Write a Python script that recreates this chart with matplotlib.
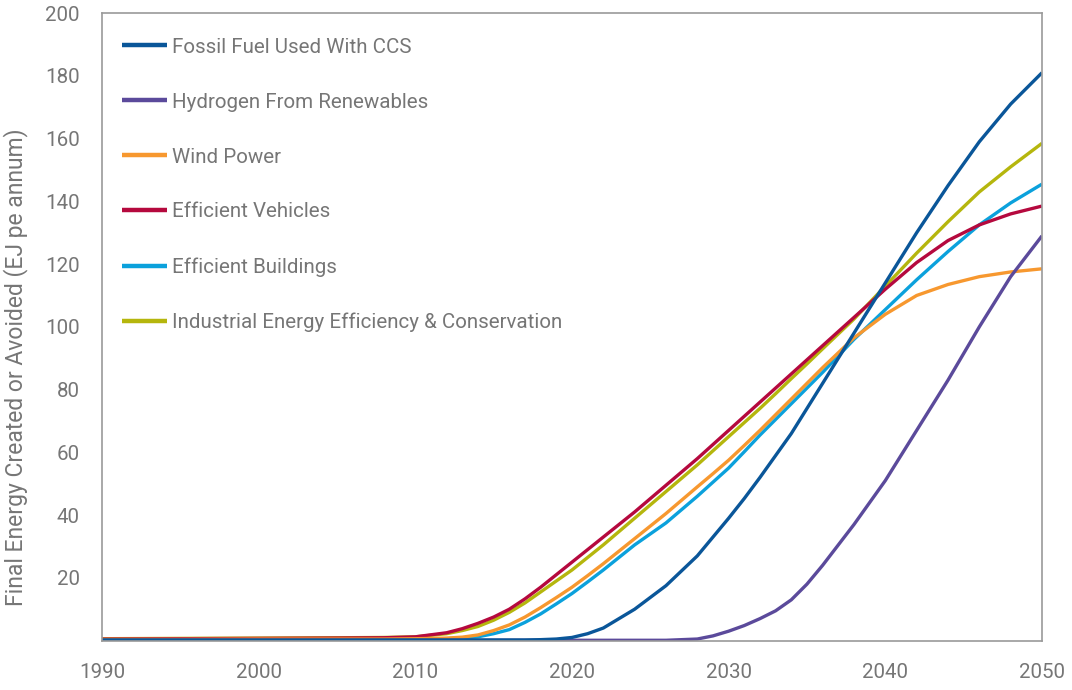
import matplotlib
matplotlib.use("Agg")
import matplotlib.pyplot as plt

plt.rcParams['font.family'] = ['Roboto', 'DejaVu Sans']

years = [1990, 1995, 2000, 2005, 2008, 2010, 2012, 2013, 2014, 2015, 2016,
         2017, 2018, 2019, 2020, 2021, 2022, 2024, 2026, 2028, 2029, 2030,
         2031, 2032, 2033, 2034, 2035, 2036, 2038, 2040, 2042, 2044, 2046,
         2048, 2050]

fossil_ccs = [0.2, 0.2, 0.2, 0.2, 0.2, 0.2, 0.2, 0.2, 0.2, 0.2, 0.2,
              0.2, 0.3, 0.5, 1, 2.2, 4, 10, 17.5, 27, 33, 39,
              45.3, 52, 59, 66, 74, 82, 98, 114, 130, 145, 159,
              171, 181]
hydrogen = [0.1, 0.1, 0.1, 0.1, 0.1, 0.1, 0.1, 0.1, 0.1, 0.1, 0.1,
            0.1, 0.1, 0.1, 0.1, 0.1, 0.1, 0.1, 0.1, 0.5, 1.5, 3,
            4.8, 7, 9.5, 13, 18, 24, 37, 51, 67, 83, 100,
            116, 129]
wind = [0.4, 0.4, 0.5, 0.5, 0.5, 0.6, 0.8, 1.1, 1.8, 3.2, 5,
        7.5, 10.5, 13.7, 17, 20.7, 24.5, 32.5, 40.5, 49, 53.2, 57.5,
        62.2, 67, 72, 77, 82, 87, 96.5, 104, 110, 113.5, 116,
        117.5, 118.5]
vehicles = [0.5, 0.6, 0.7, 0.8, 0.9, 1.2, 2.5, 3.8, 5.5, 7.5, 10,
            13.3, 17, 21, 25, 29, 33, 41, 49.5, 58, 62.5, 67,
            71.5, 76, 80.5, 85, 89.5, 94, 103, 112, 120.5, 127.5, 132.5,
            136, 138.5]
buildings = [0.3, 0.3, 0.4, 0.4, 0.4, 0.4, 0.6, 0.8, 1.2, 2.2, 3.5,
             5.8, 8.5, 11.7, 15, 18.7, 22.5, 30.5, 37.5, 46, 50.5, 55,
             60.2, 65.5, 70.5, 75.5, 80.5, 85.5, 96, 105.5, 115, 124, 132.5,
             139.5, 145.5]
industrial = [0.6, 0.7, 0.8, 0.9, 1.0, 1.2, 2.2, 3.2, 4.5, 6.5, 9,
              12, 15.5, 19, 22.5, 26.5, 30.5, 39, 47.5, 56, 60.5, 65,
              69.5, 74, 78.7, 83.5, 88.2, 93, 102.5, 113, 123.5, 133.5, 143,
              151, 158.5]

series = [
    ("Fossil Fuel Used With CCS", fossil_ccs, "#0a5699"),
    ("Hydrogen From Renewables", hydrogen, "#5b4a9b"),
    ("Wind Power", wind, "#f7982f"),
    ("Efficient Vehicles", vehicles, "#b5093e"),
    ("Efficient Buildings", buildings, "#0ba1dc"),
    ("Industrial Energy Efficiency & Conservation", industrial, "#b5b60d"),
]

x_ticks = [1990, 2000, 2010, 2020, 2030, 2040, 2050]
y_ticks = [20, 40, 60, 80, 100, 120, 140, 160, 180, 200]

text_color = "#767676"
frame_color = "#9a9a9a"
fs = 14.8

fig = plt.figure(figsize=(10.72, 6.9), dpi=100)
ax = fig.add_axes([0.0951, 0.0716, 0.8769, 0.9094])

# draw in reverse so the first series ends on top
for name, vals, col in reversed(series):
    ax.plot(years, vals, color=col, linewidth=2.4, label=name,
            solid_capstyle='butt', solid_joinstyle='round')

ax.set_xlim(1990, 2050)
ax.set_ylim(0, 200)
ax.set_xticks(x_ticks)
ax.set_yticks(y_ticks)
ax.tick_params(axis='both', length=0, labelsize=fs, colors=text_color)
ax.tick_params(axis='y', pad=16)
ax.tick_params(axis='x', pad=16)

for sp in ax.spines.values():
    sp.set_color(frame_color)
    sp.set_linewidth(1.2)

ax.set_ylabel("Final Energy Created or Avoided (EJ pe annum)", fontsize=16.5,
              color=text_color)
ax.yaxis.set_label_coords(-0.079, 0.436)

handles, labels = ax.get_legend_handles_labels()
handles, labels = handles[::-1], labels[::-1]
leg = ax.legend(handles, labels, loc='upper left', bbox_to_anchor=(0.021, 0.961),
                frameon=False, fontsize=fs, handlelength=2.2,
                handletextpad=0.25, labelspacing=1.75, borderpad=0,
                borderaxespad=0)
for t in leg.get_texts():
    t.set_color(text_color)
for h in leg.get_lines():
    h.set_linewidth(3.2)

fig.savefig("out.png", dpi=100)
